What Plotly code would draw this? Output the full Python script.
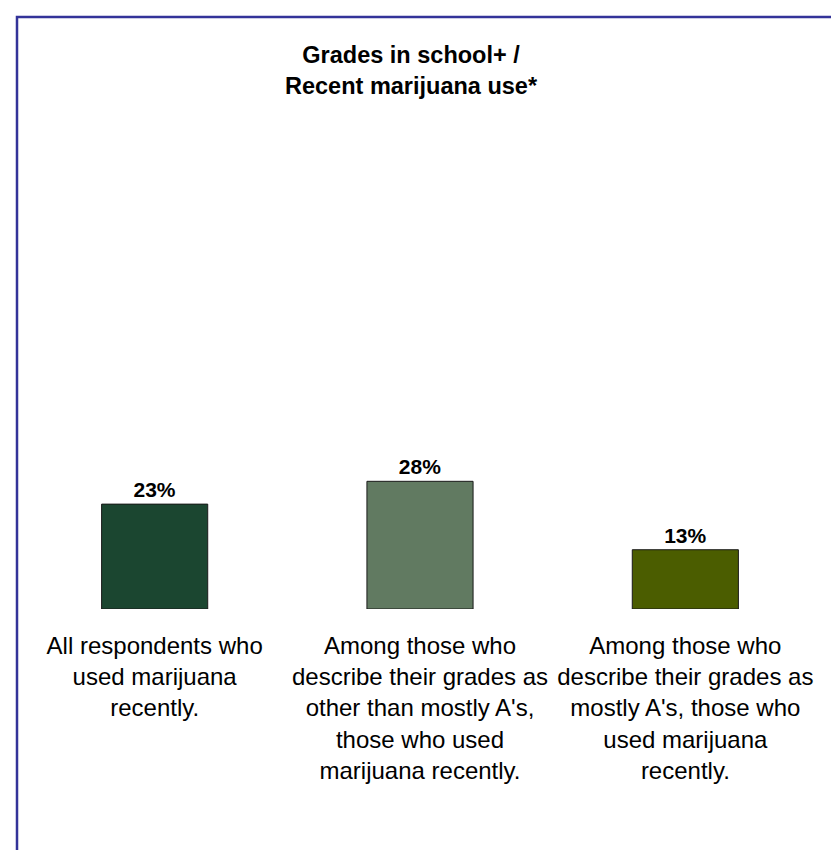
import plotly.graph_objects as go

categories = [
    "All respondents who<br>used marijuana<br>recently.",
    "Among those who<br>describe their grades as<br>other than mostly A's,<br>those who used<br>marijuana recently.",
    "Among those who<br>describe their grades as<br>mostly A's, those who<br>used marijuana<br>recently.",
]
values = [23, 28, 13]
value_labels = ["23%", "28%", "13%"]
bar_colors = ["#1B4630", "#617A61", "#4B5D00"]
title_text = "Grades in school+ /<br>Recent marijuana use*"

W, H = 839, 850
L, R, T, B = 14, 29, 145, 249
pw = W - L - R
ph = H - T - B

def px_x(x):
    return (x - L) / pw

def px_y(y):
    return (H - B - y) / ph

fig = go.Figure()
fig.add_trace(go.Bar(
    x=[0, 1, 2],
    y=values,
    width=0.4,
    marker=dict(color=bar_colors, line=dict(color="#1a1a1a", width=1)),
    text=value_labels,
    textposition="outside",
    textfont=dict(family="Liberation Sans, Arial", size=21, color="black", weight="bold"),
    cliponaxis=False,
    hoverinfo="skip",
))

fig.update_layout(
    width=W, height=H,
    margin=dict(l=L, r=R, t=T, b=B),
    paper_bgcolor="white",
    plot_bgcolor="white",
    showlegend=False,
    font=dict(family="Liberation Sans, Arial", color="black"),
    xaxis=dict(
        range=[-0.5, 2.5],
        tickvals=[0, 1, 2],
        ticktext=categories,
        tickfont=dict(size=24, color="black"),
        ticklabelstandoff=20,
        showgrid=False, zeroline=False, showline=False, ticks="",
    ),
    yaxis=dict(range=[0, 100], visible=False, showgrid=False, zeroline=False),
    shapes=[dict(
        type="rect", xref="paper", yref="paper",
        x0=px_x(9), x1=px_x(825), y0=px_y(870), y1=px_y(9),
        line=dict(color="#333399", width=2.5), fillcolor="rgba(0,0,0,0)",
        layer="above",
    )],
    annotations=[dict(
        text="<b>" + title_text + "</b>",
        xref="paper", yref="paper",
        x=px_x(403), y=px_y(32),
        xanchor="center", yanchor="top",
        showarrow=False,
        font=dict(size=23.5, color="black", family="Liberation Sans, Arial"),
        align="center",
    )],
)

fig.write_html("out.html")
